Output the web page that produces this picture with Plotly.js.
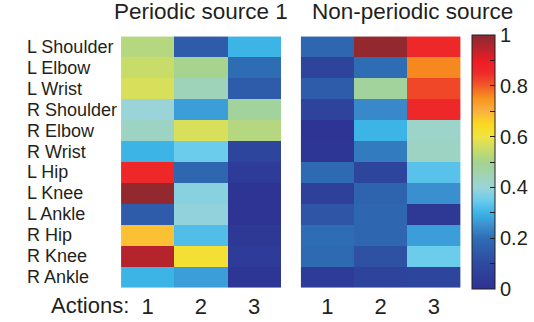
<!DOCTYPE html>
<html><head><meta charset="utf-8">
<script src="https://cdn.plot.ly/plotly-3.0.1.min.js"></script>
<style>html,body{margin:0;padding:0;background:#fff}#chart{width:534px;height:322px}</style>
</head><body><div id="chart"></div>
<script>
const joints = ['L Shoulder','L Elbow','L Wrist','R Shoulder','R Elbow','R Wrist','L Hip','L Knee','L Ankle','R Hip','R Knee','R Ankle'];
const actions = ['1','2','3'];
const periodic = [
  [0.52,0.15,0.30],
  [0.55,0.50,0.20],
  [0.57,0.44,0.15],
  [0.40,0.27,0.48],
  [0.43,0.57,0.52],
  [0.30,0.35,0.08],
  [0.86,0.18,0.04],
  [0.99,0.38,0.01],
  [0.15,0.39,0.01],
  [0.68,0.32,0.03],
  [0.95,0.62,0.04],
  [0.30,0.27,0.02]
];
const nonPeriodic = [
  [0.18,0.99,0.86],
  [0.07,0.20,0.76],
  [0.15,0.48,0.82],
  [0.07,0.24,0.86],
  [0.01,0.30,0.42],
  [0.02,0.22,0.43],
  [0.19,0.08,0.33],
  [0.06,0.17,0.25],
  [0.13,0.18,0.03],
  [0.20,0.18,0.27],
  [0.19,0.12,0.35],
  [0.04,0.07,0.08]
];
const panelTitles = ['Periodic source 1','Non-periodic source'];
const axisLabel = 'Actions:';
const colorTickVals = [0,0.1,0.2,0.3,0.4,0.5,0.6,0.7,0.8,0.9,1];
const colorTickText = ['0','','0.2','','0.4','','0.6','','0.8','','1'];

const W = 534, H = 322;
const px = v => v / W;
const py = v => 1 - v / H;
const plotTop = 35, plotBottom = 289;

const scale = [
  [0,'#2e3192'],[0.1,'#2e4aa0'],[0.2,'#2e6db4'],[0.25,'#3a8fcf'],[0.3,'#3db4e6'],
  [0.35,'#6cccec'],[0.4,'#9bd4d8'],[0.45,'#9fd3b3'],[0.5,'#a6d38e'],[0.55,'#c8dc6a'],
  [0.6,'#f0e442'],[0.65,'#fbd81f'],[0.7,'#fbb040'],[0.75,'#f7941d'],[0.8,'#f15a29'],
  [0.85,'#ee2a2a'],[0.9,'#ed1c24'],[0.95,'#b5242d'],[1,'#8b2a30']
];
const txt = '#231f20';
const font = 'Liberation Sans, Arial, Helvetica, sans-serif';

const traces = [
  {type:'heatmap', x:actions, y:joints, z:periodic, xaxis:'x', yaxis:'y',
   colorscale:scale, zmin:0, zmax:1, showscale:false},
  {type:'heatmap', x:actions, y:joints, z:nonPeriodic, xaxis:'x2', yaxis:'y',
   colorscale:scale, zmin:0, zmax:1, showscale:true,
   colorbar:{x:px(476), xanchor:'left', y:py(plotBottom), yanchor:'bottom',
     thickness:23, thicknessmode:'pixels', len:plotBottom-plotTop, lenmode:'pixels',
     xpad:0, ypad:0, outlinewidth:1, outlinecolor:'#231f20',
     tickmode:'array', tickvals:colorTickVals, ticktext:colorTickText,
     ticks:'inside', ticklen:5, tickwidth:1, tickcolor:'#231f20',
     tickfont:{size:20, color:txt, family:font}}}
];

const annotations = joints.map(j => ({x:px(25), xref:'paper', xanchor:'left', y:j, yref:'y',
  text:j, showarrow:false, font:{size:18, color:txt, family:font}}));
annotations.push({x:px(203), xref:'paper', xanchor:'center', y:py(11), yref:'paper', yanchor:'middle',
  text:panelTitles[0], showarrow:false, font:{size:22.5, color:txt, family:font}});
annotations.push({x:px(416), xref:'paper', xanchor:'center', y:py(11), yref:'paper', yanchor:'middle',
  text:panelTitles[1], showarrow:false, font:{size:22.5, color:txt, family:font}});
annotations.push({x:px(49), xref:'paper', xanchor:'left', y:py(305), yref:'paper', yanchor:'middle',
  text:axisLabel, showarrow:false, font:{size:22, color:txt, family:font}});

const shapes = colorTickVals.slice(1,-1).map(v => ({type:'line', xref:'paper', yref:'paper',
  x0:px(476), x1:px(481), y0:py(plotBottom - v*(plotBottom-plotTop)), y1:py(plotBottom - v*(plotBottom-plotTop)),
  line:{color:'#231f20', width:1}}));

const xaxisBase = {type:'category', showgrid:false, zeroline:false, showline:false, ticks:'',
  ticklabelstandoff:2, tickfont:{size:22, color:txt, family:font}, fixedrange:true};
const layout = {
  width:W, height:H, margin:{l:0,r:0,t:0,b:0}, paper_bgcolor:'#fff', plot_bgcolor:'#fff',
  font:{family:font, color:txt},
  xaxis:Object.assign({domain:[px(122), px(283)], anchor:'y'}, xaxisBase),
  xaxis2:Object.assign({domain:[px(303), px(464)], anchor:'y'}, xaxisBase),
  yaxis:{domain:[py(plotBottom), py(plotTop)], type:'category', categoryorder:'array', categoryarray:joints,
    autorange:'reversed', showticklabels:false, showgrid:false, zeroline:false, ticks:'', fixedrange:true},
  annotations, shapes
};
Plotly.newPlot('chart', traces, layout, {staticPlot:true, displayModeBar:false});
</script></body></html>
